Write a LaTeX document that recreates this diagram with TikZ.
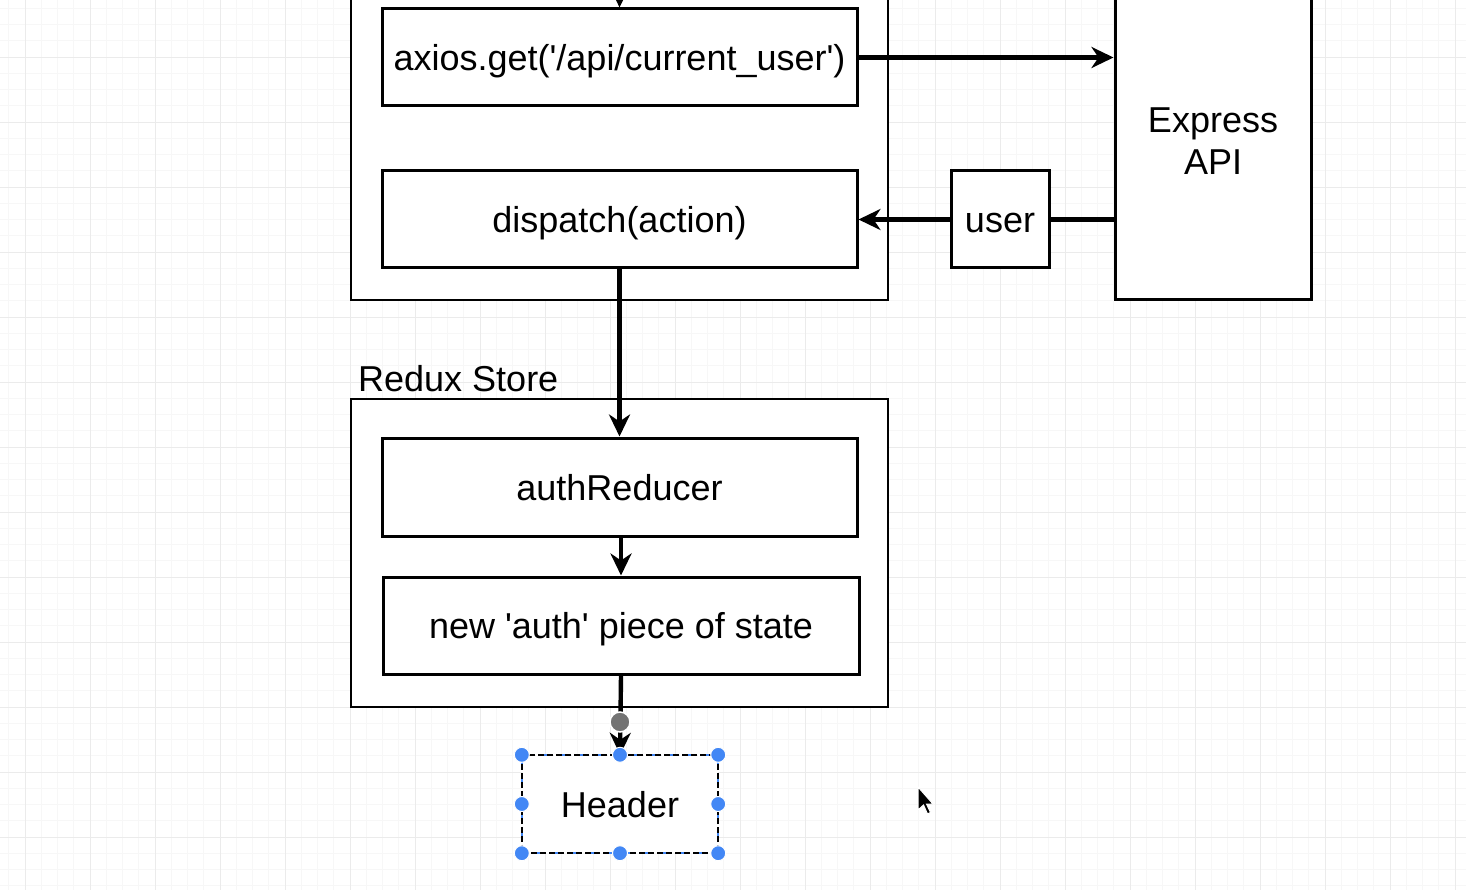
\documentclass[tikz,border=0pt]{standalone}
\usepackage{fontspec}
\setmainfont{Liberation Sans}
\usetikzlibrary{arrows.meta}
\definecolor{handleblue}{RGB}{66,135,245}
\newcommand{\sq}{\textquotesingle}
\begin{document}
\begin{tikzpicture}[x=1pt,y=-1pt,
  lbl/.style={font=\fontsize{36}{42}\selectfont},
  box/.style={draw,line width=3pt,inner sep=0pt,lbl,align=center,text height=33pt,text depth=7pt},
  cont/.style={draw,line width=2.8pt,inner sep=0pt},
  conn/.style={line width=4.4pt},
  arr/.style={conn,-{Stealth[length=22pt,width=21pt,inset=7pt]}},
  handle/.style={circle,fill=handleblue,draw=white,line width=1pt,inner sep=0pt,minimum size=15pt}]
\useasboundingbox (0,0) rectangle (1466,890);
\clip (0,0) rectangle (1466,890);
% grid
\foreach \i in {0,...,95}{
  \draw[black!3,line width=0.6pt] ({25+16.25*(\i-2)},0) -- ({25+16.25*(\i-2)},890);
}
\foreach \i in {0,...,60}{
  \draw[black!3,line width=0.6pt] (0,{57+16.25*(\i-4)}) -- (1466,{57+16.25*(\i-4)});
}
\foreach \i in {0,...,23}{
  \draw[black!8,line width=0.8pt] ({25+65*\i},0) -- ({25+65*\i},890);
}
\foreach \i in {-1,...,14}{
  \draw[black!8,line width=0.8pt] (0,{57+65*\i}) -- (1466,{57+65*\i});
}
% containers
\node[cont,fill=white,minimum width=537pt,minimum height=340pt] (outer) at (619.5,130) {};
\node[cont,fill=white,minimum width=537pt,minimum height=308pt] (store) at (619.5,553) {};
\node[lbl,anchor=base west,inner sep=0pt] (storelbl) at (358,391) {Redux Store};
% boxes
\node[box,fill=white,minimum width=475pt,minimum height=97pt] (axios) at (619.5,57.5) {axios.get(\sq/api/current\_user\sq)};
\node[box,fill=white,minimum width=475pt,minimum height=97pt] (dispatch) at (619.5,219.5) {dispatch(action)};
\node[draw,line width=3pt,fill=white,minimum width=196pt,minimum height=322pt] (express) at (1213,139) {};
\node[lbl,align=center] (exprlbl) at (1213,141) {Express\\API};
\node[box,fill=white,minimum width=98pt,minimum height=97pt] (user) at (1000,219.5) {user};
\node[box,fill=white,minimum width=475pt,minimum height=98pt] (auth) at (619.5,487) {authReducer};
\node[box,fill=white,minimum width=476pt,minimum height=97pt] (state) at (621,625.5) {new \sq auth\sq{} piece of state};
\node[lbl,fill=white,minimum width=196pt,minimum height=98pt,inner sep=0pt,text height=33pt,text depth=7pt] (header) at (620,804) {Header};
% connectors
\coordinate (topin) at (620,-40);
\draw[arr] (topin) -- (axios.north);
\draw[arr] (axios.east) -- (express.west |- axios.east);
\draw[conn] (express.west |- user.east) -- (user.east);
\draw[arr] (user.west) -- (dispatch.east);
\draw[arr] (dispatch.south) -- (auth.north);
\draw[arr] (auth.south -| state.north) -- (state.north);
\draw[arr] (state.south) -- (header.north);
% selection outline
\draw[handleblue,line width=2.2pt,dashed] (header.north west) rectangle (header.south east);
\draw[black,line width=2.2pt,dash pattern=on 6pt off 3pt] (header.north west) rectangle (header.south east);
\foreach \a in {north west,north,north east,west,east,south west,south,south east}{
  \node[handle] at (header.\a) {};
}
% connection hint icon
\node[circle,fill=black!55,draw=white,line width=1.5pt,minimum size=20pt,inner sep=0pt] (hint) at (620,722) {};
% cursor
\filldraw[fill=black,draw=white,line width=1pt] (918,787) -- (918,810) -- (923.5,805) -- (927.5,814) -- (930.5,812.5) -- (926.5,804) -- (933,804) -- cycle;
\end{tikzpicture}
\end{document}
